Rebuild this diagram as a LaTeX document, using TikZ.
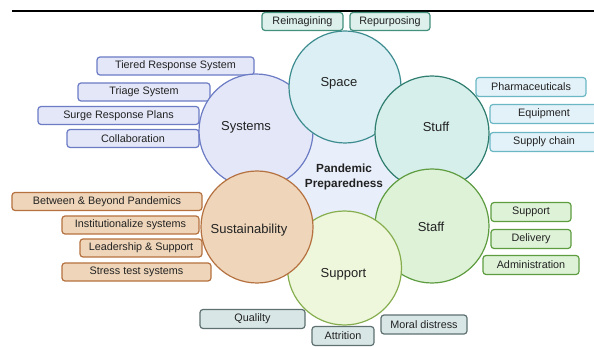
\documentclass[tikz,border=0pt]{standalone}
\usepackage{fontspec}
\setmainfont{Liberation Sans}
\definecolor{sysfill}{HTML}{E4E7F8}
\definecolor{sysdraw}{HTML}{6B7BC4}
\definecolor{spcfill}{HTML}{DBEFF4}
\definecolor{spcdraw}{HTML}{3D8C8F}
\definecolor{spcbox}{HTML}{DDF0EC}
\definecolor{spcboxdraw}{HTML}{43907C}
\definecolor{stffill}{HTML}{D6EFEA}
\definecolor{stfdraw}{HTML}{2F7D6F}
\definecolor{stfbox}{HTML}{E3F1F8}
\definecolor{stfboxdraw}{HTML}{6BB8C4}
\definecolor{stafill}{HTML}{DEF2D8}
\definecolor{stadraw}{HTML}{5E9C40}
\definecolor{supfill}{HTML}{EEF6DC}
\definecolor{supdraw}{HTML}{86AE4F}
\definecolor{supbox}{HTML}{D9E6E6}
\definecolor{supboxdraw}{HTML}{5E7070}
\definecolor{susfill}{HTML}{EFD6BA}
\definecolor{susdraw}{HTML}{B5713F}
\definecolor{midfill}{HTML}{E9EFFA}
\definecolor{txt}{HTML}{222222}
\tikzstyle{every node}=[text=txt]
\tikzstyle{hub}=[circle,line width=1.2pt,inner sep=0pt]
\tikzstyle{hubtext}=[font=\fontsize{13}{15}\selectfont]
\tikzstyle{tag}=[rounded corners=3pt,line width=1.2pt,minimum height=18,inner sep=0pt,font=\fontsize{10.8}{12}\selectfont]

\begin{document}
\begin{tikzpicture}[x=1pt,y=-1pt]
	\useasboundingbox (0,0) rectangle (594,347);
	%rule
	\draw[line width=2pt] (12,11) -- (594,11);
	%tags behind the circles
	\foreach \n/\x/\y/\w/\t in {
		tiered/175.5/66/157/Tiered Response System,
		triage/144/92/132/Triage System,
		surge/118.5/115.5/161/Surge Response Plans,
		collab/133/138.5/132/Collaboration}
	\node[tag,fill=sysfill,draw=sysdraw,minimum width=\w] (\n) at (\x,\y) {\t};
	\foreach \n/\x/\y/\w/\t in {
		reimagine/302.5/21.5/81/Reimagining,
		repurpose/390/21.5/80/Repurposing}
	\node[tag,fill=spcbox,draw=spcboxdraw,minimum width=\w] (\n) at (\x,\y) {\t};
	\foreach \n/\x/\y/\w/\t in {
		pharma/531/87/110/Pharmaceuticals,
		equip/544/114/108/Equipment,
		supply/544/142/108/Supply chain}
	\node[tag,fill=stfbox,draw=stfboxdraw,minimum width=\w,minimum height=19] (\n) at (\x,\y) {\t};
	\foreach \n/\x/\y/\w/\t in {
		help/531/212/80/Support,
		deliver/531/239/80/Delivery,
		admin/531/265/96/Administration}
	\node[tag,fill=stafill,draw=stadraw,minimum width=\w,minimum height=19] (\n) at (\x,\y) {\t};
	\foreach \n/\x/\y/\w/\t in {
		beyond/107/201.5/190/Between \& Beyond Pandemics,
		institute/130.5/225/137/Institutionalize systems,
		leader/141/248/122/Leadership \& Support,
		stress/136.5/272/149/Stress test systems}
	\node[tag,fill=susfill,draw=susdraw,minimum width=\w] (\n) at (\x,\y) {\t};
	\foreach \n/\x/\y/\w/\t in {
		quality/252.5/319/105/Qualilty,
		attrition/343/336/62/Attrition,
		moral/424/324.5/86/Moral distress}
	\node[tag,fill=supbox,draw=supboxdraw,minimum width=\w,minimum height=19] (\n) at (\x,\y) {\t};
	%centre
	\node[circle,fill=midfill,minimum size=180,inner sep=0pt] (mid) at (345,178) {};
	%circles
	\node[hub,fill=sysfill,draw=sysdraw,minimum size=114] (systems) at (256,131) {};
	\node[hub,fill=spcfill,draw=spcdraw,minimum size=112] (space) at (345,87) {};
	\node[hub,fill=stffill,draw=stfdraw,minimum size=114] (stuff) at (432,133) {};
	\node[hub,fill=stafill,draw=stadraw,minimum size=114] (staff) at (432,226) {};
	\node[hub,fill=supfill,draw=supdraw,minimum size=114] (support) at (344.5,268) {};
	\node[hub,fill=susfill,draw=susdraw,minimum size=112] (sustain) at (257,227) {};
	%labels
	\node[hubtext] (systemstext) at (246,127) {Systems};
	\node[hubtext] (spacetext) at (339,83) {Space};
	\node[hubtext] (stufftext) at (436,127) {Stuff};
	\node[hubtext] (stafftext) at (431,227) {Staff};
	\node[hubtext] (supporttext) at (343.5,274) {Support};
	\node[hubtext] (sustaintext) at (249,230) {Sustainability};
	\node[font=\bfseries\fontsize{11.8}{14.5}\selectfont,align=center] (title) at (344,177) {Pandemic\\Preparedness};
\end{tikzpicture}
\end{document}
